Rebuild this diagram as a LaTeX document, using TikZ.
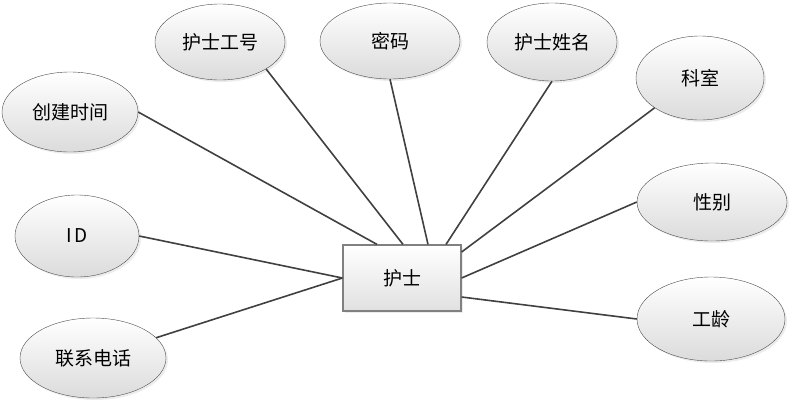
\documentclass[tikz,border=0pt]{standalone}
\usepackage{fontspec}
\setmainfont{Noto Sans CJK SC}
\usetikzlibrary{shapes.geometric,shadows}

\begin{document}
\begin{tikzpicture}[
      x=1pt, y=-1pt,
      attr/.style={draw=black!70, ellipse, inner sep=0pt, top color=white, bottom color=black!14,
        drop shadow={opacity=0.15, shadow xshift=2pt, shadow yshift=-2pt},
        font=\fontsize{19}{21}\selectfont},
      entity/.style={draw=black!50, line width=1.2pt, rectangle, inner sep=0pt,
        minimum width=118pt, minimum height=66pt, top color=white, bottom color=black!12,
        drop shadow={opacity=0.15, shadow xshift=2pt, shadow yshift=-2pt},
        font=\fontsize{19}{21}\selectfont},
      link/.style={draw=black!75, line width=1.6pt},
    ]
    \useasboundingbox (0,0) rectangle (792,408);
    % entity
    \node[entity] (nurse) at (402,278) {护士};
    % attributes
    \node[attr, minimum width=136pt, minimum height=80pt] (cjsj) at (70,112) {创建时间};
    \node[attr, minimum width=130pt, minimum height=76pt] (hsgh) at (220,42) {护士工号};
    \node[attr, minimum width=140pt, minimum height=76pt] (mm) at (390,41) {密码};
    \node[attr, minimum width=130pt, minimum height=78pt] (hsxm) at (552,42) {护士姓名};
    \node[attr, minimum width=128pt, minimum height=84pt] (ks) at (700,78) {科室};
    \node[attr, minimum width=150pt, minimum height=78pt] (xb) at (712,202) {性别};
    \node[attr, minimum width=148pt, minimum height=84pt] (gl) at (711,319) {工龄};
    \node[attr, minimum width=124pt, minimum height=82pt] (id) at (77,236) {I\,D};
    \node[attr, minimum width=146pt, minimum height=80pt] (lxdh) at (93,358) {联系电话};
    % links
    \draw[link] (cjsj.east) -- ([xshift=-25pt]nurse.north);
    \draw[link] (hsgh.south east) -- ([xshift=1pt]nurse.north);
    \draw[link] (mm.south) -- ([xshift=26pt]nurse.north);
    \draw[link] (hsxm.south) -- ([xshift=44pt]nurse.north);
    \draw[link] (ks.south west) -- ([yshift=26pt]nurse.east);
    \draw[link] (xb.west) -- (nurse.east);
    \draw[link] (gl.west) -- ([yshift=-19pt]nurse.east);
    \draw[link] (id.east) -- (nurse.west);
    \draw[link] (lxdh) -- (nurse.west);
\end{tikzpicture}
\end{document}
